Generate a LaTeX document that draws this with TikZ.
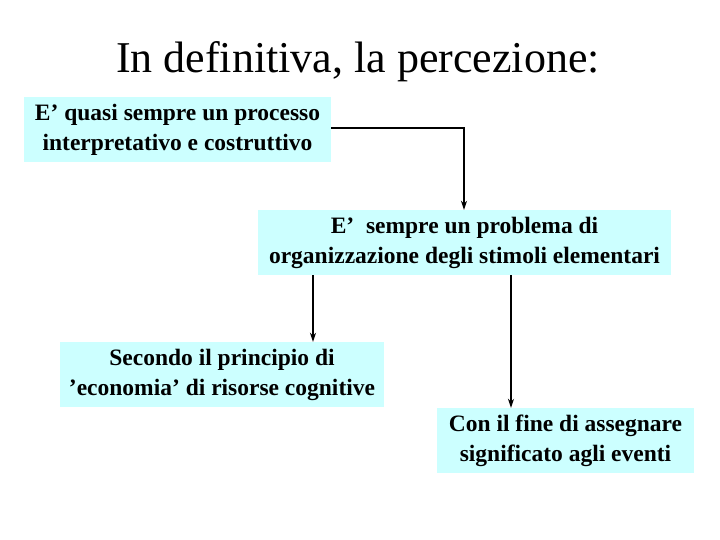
\documentclass[tikz,border=0pt]{standalone}
\usepackage{fontspec}
\setmainfont{Liberation Serif}[Ligatures=NoCommon]
\usetikzlibrary{arrows.meta}
\definecolor{boxc}{HTML}{CCFFFF}
\newcommand{\q}{\char"0027\relax}
\begin{document}
\begin{tikzpicture}[x=1pt,y=-1pt,
  bx/.style={fill=boxc,draw=none,align=center,inner sep=0pt,font=\fontsize{23.5}{30}\selectfont\bfseries},
  ar/.style={-{Stealth[length=9pt,width=6pt]},line width=1.2pt}]
\useasboundingbox (0,0) rectangle (720,540);
\node[font=\fontsize{44}{46}\selectfont] (t) at (358,62) {In definitiva, la percezione:};
\node[bx,minimum width=307pt,minimum height=65pt] (a) at (177.5,129.5) {E\q{} quasi sempre un processo\\interpretativo e costruttivo};
\node[bx,minimum width=413pt,minimum height=65pt] (b) at (464.5,242.5) {E\q\ \ sempre un problema di\\organizzazione degli stimoli elementari};
\node[bx,minimum width=324pt,minimum height=65pt] (c) at (222,374.5) {Secondo il principio di\\\q economia\q{} di risorse cognitive};
\node[bx,minimum width=257pt,minimum height=65pt] (d) at (565.5,440.5) {Con il fine di assegnare\\significato agli eventi};
\coordinate (k) at (464,128);
\draw[ar] (a.east |- k) -- (k) -- (b.north -| k);
\draw[ar] (b.south -| 313,0) -- (c.north -| 313,0);
\draw[ar] (b.south -| 511,0) -- (d.north -| 511,0);
\end{tikzpicture}
\end{document}
